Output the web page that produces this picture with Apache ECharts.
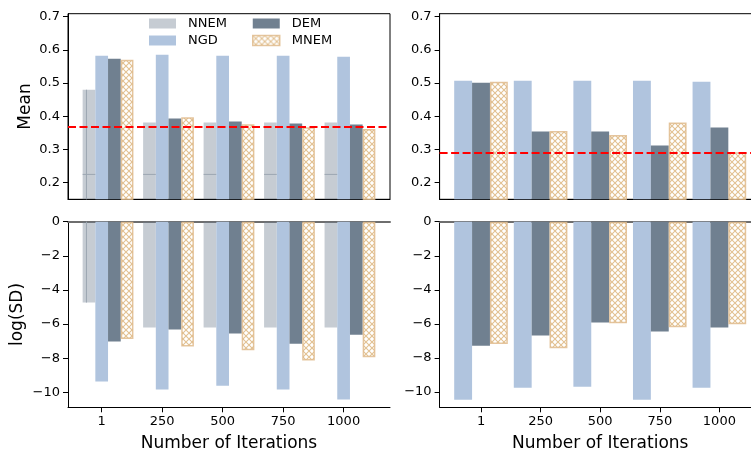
<!DOCTYPE html>
<html>
<head>
<meta charset="utf-8">
<script src="https://cdn.jsdelivr.net/npm/echarts@6/dist/echarts.min.js"></script>
<style>
  html, body { margin: 0; padding: 0; background: #fff; }
  #chart { width: 751px; height: 450px; }
</style>
</head>
<body>
<div id="chart"></div>
<script>
// x positions and tick labels
var iterPos = [0, 1, 2, 3, 4];
var iterLabels = ['1', '250', '500', '750', '1000'];

// left column: mean
var nnemMean = [0.480, 0.381, 0.381, 0.381, 0.381];
var nnemInner = [0.225, 0.225, 0.225, 0.225, 0.225];
var ngdMeanL = [0.582, 0.585, 0.582, 0.582, 0.579];
var demMeanL = [0.573, 0.393, 0.384, 0.378, 0.375];
var mnemMeanL = [0.570, 0.397, 0.376, 0.367, 0.362];
// right column: mean
var ngdMeanR = [0.507, 0.507, 0.507, 0.507, 0.504];
var demMeanR = [0.501, 0.354, 0.354, 0.312, 0.366];
var mnemMeanR = [0.504, 0.356, 0.344, 0.381, 0.292];
// reference lines (left, right)
var refMean = [0.373, 0.289];

// left column: log(SD)
var nnemLogL = [-4.74, -6.20, -6.20, -6.20, -6.20];
var ngdLogL = [-9.37, -9.84, -9.61, -9.84, -10.43];
var demLogL = [-7.02, -6.32, -6.55, -7.15, -6.63];
var mnemLogL = [-6.88, -7.31, -7.54, -8.13, -7.95];
// right column: log(SD)
var ngdLogR = [-10.45, -9.75, -9.69, -10.45, -9.75];
var demLogR = [-7.28, -6.69, -5.92, -6.45, -6.21];
var mnemLogR = [-7.18, -7.43, -5.96, -6.20, -6.02];

var meanTicks = [0.2, 0.3, 0.4, 0.5, 0.6, 0.7];
var logTicks = [0, -2, -4, -6, -8, -10];

var FONT = 'DejaVu Sans';
var LEFT_W = 0.21;   // bar width in x units, left column (4 bars)
var RIGHT_W = 0.3;   // right column (3 bars)

var NNEM_C = 'rgba(112,128,144,0.4)';
var NGD_C = '#b0c4de';
var DEM_C = '#708090';
var MNEM_EDGE = 'rgba(222,184,135,0.8)';

function makeHatch() {
  var c = document.createElement('canvas');
  c.width = 6; c.height = 6;
  var g = c.getContext('2d');
  g.fillStyle = '#fff';
  g.fillRect(0, 0, 6, 6);
  g.strokeStyle = '#e2c192';
  g.lineWidth = 1.1;
  g.beginPath();
  g.moveTo(-1, -1); g.lineTo(7, 7);
  g.moveTo(7, -1); g.lineTo(-1, 7);
  g.stroke();
  return c;
}
var hatch = { image: makeHatch(), repeat: 'repeat' };

function pts(arr) {
  return iterPos.map(function (x, i) { return [x, arr[i]]; });
}

var chart = echarts.init(document.getElementById('chart'));

var gridTop = 13.7, gridH = 185.6, gridTop2 = 221.7;
var grids = [
  { left: 68, top: gridTop, width: 322, height: gridH },
  { left: 439.6, top: gridTop, width: 321.2, height: gridH },
  { left: 68, top: gridTop2, width: 322, height: gridH },
  { left: 439.6, top: gridTop2, width: 321.2, height: gridH }
].map(function (g, i) {
  g.outerBoundsMode = 'none';
  if (i < 2) { g.show = true; g.borderColor = '#000'; g.borderWidth = 1; }
  return g;
});

function xAxisFor(grid, min, max, withLabels) {
  return {
    type: 'value', gridIndex: grid, min: min, max: max,
    splitLine: { show: false },
    axisLine: { show: true, onZero: false, lineStyle: { color: '#000', width: 1 } },
    axisTick: { show: withLabels, customValues: iterPos, length: 5, lineStyle: { color: '#000' } },
    axisLabel: {
      show: withLabels, customValues: iterPos, margin: 8,
      fontFamily: FONT, fontSize: 13, color: '#000',
      formatter: function (v) { return iterLabels[Math.round(v)]; }
    },
    name: withLabels ? 'Number of Iterations' : '',
    nameLocation: 'middle', nameGap: 28,
    nameTextStyle: { fontFamily: FONT, fontSize: 17, color: '#000' }
  };
}

function yAxisFor(grid, min, max, ticks, name, gap, fmt) {
  return {
    type: 'value', gridIndex: grid, min: min, max: max,
    splitLine: { show: false },
    axisLine: { show: true, onZero: false, lineStyle: { color: '#000', width: 1 } },
    axisTick: { show: true, customValues: ticks, length: 5, lineStyle: { color: '#000' } },
    axisLabel: {
      customValues: ticks, margin: 8,
      fontFamily: FONT, fontSize: 13, color: '#000', formatter: fmt
    },
    name: name, nameLocation: 'middle', nameGap: gap,
    nameTextStyle: { fontFamily: FONT, fontSize: 17, color: '#000' }
  };
}

var fmtMean = function (v) { return v.toFixed(1); };
var fmtLog = function (v) { return String(v).replace('-', '\u2212'); };

var xAxes = [
  xAxisFor(0, -0.557, 4.767, false),
  xAxisFor(1, -0.695, 4.695, false),
  xAxisFor(2, -0.557, 4.767, true),
  xAxisFor(3, -0.695, 4.695, true),
  // zero line along the top of the log(SD) panels
  { type: 'value', gridIndex: 2, position: 'top', min: 0, max: 1, axisLine: { onZero: false, lineStyle: { color: '#6e6e6e', width: 2 } }, axisTick: { show: false }, axisLabel: { show: false }, splitLine: { show: false } },
  { type: 'value', gridIndex: 3, position: 'top', min: 0, max: 1, axisLine: { onZero: false, lineStyle: { color: '#6e6e6e', width: 2 } }, axisTick: { show: false }, axisLabel: { show: false }, splitLine: { show: false } }
];

var yAxes = [
  yAxisFor(0, 0.15, 0.709, meanTicks, 'Mean', 34, fmtMean),
  yAxisFor(1, 0.15, 0.709, meanTicks, '', 0, fmtMean),
  yAxisFor(2, -10.88, 0, logTicks, 'log(SD)', 42, fmtLog),
  yAxisFor(3, -10.9, 0, logTicks, '', 0, fmtLog)
];

function bar(name, data, axis, width, color, edged) {
  var s = {
    name: name, type: 'bar', xAxisIndex: axis, yAxisIndex: axis,
    data: pts(data), barWidth: (width * 100) + '%', barGap: '0%',
    itemStyle: { color: color },
    emphasis: { disabled: true }
  };
  if (edged) { s.itemStyle.borderColor = MNEM_EDGE; s.itemStyle.borderWidth = 1.5; }
  return s;
}

// spacer so that ECharts' side-by-side layout puts NNEM at x-w, NGD at x, DEM at x+w, MNEM at x+2w
function spacer(axis) {
  return {
    name: '_pad', type: 'bar', xAxisIndex: axis, yAxisIndex: axis,
    data: iterPos.map(function (x) { return [x, null]; }),
    barWidth: (LEFT_W * 100) + '%', barGap: '0%', silent: true
  };
}

// thin lines inside the NNEM bars
function nnemLines(axis, base, top, inner) {
  return {
    type: 'custom', xAxisIndex: axis, yAxisIndex: axis, silent: true, z: 3,
    data: iterPos.map(function (x, i) { return [x, top[i], inner ? inner[i] : NaN]; }),
    renderItem: function (params, api) {
      var x = api.value(0), topV = api.value(1), innerV = api.value(2);
      var children = [];
      var style = { stroke: '#9ca6b1', lineWidth: 1 };
      if (!isNaN(innerV)) {
        var a = api.coord([x - 1.5 * LEFT_W, innerV]);
        var b = api.coord([x - 0.5 * LEFT_W, innerV]);
        children.push({ type: 'line', shape: { x1: a[0], y1: a[1], x2: b[0], y2: b[1] }, style: style });
      }
      if (params.dataIndex === 0) {
        var p = api.coord([x - 1.2 * LEFT_W, topV]);
        var q = api.coord([x - 1.2 * LEFT_W, base]);
        children.push({ type: 'line', shape: { x1: p[0], y1: p[1], x2: q[0], y2: q[1] }, style: style });
      }
      return { type: 'group', children: children };
    }
  };
}

function refLine(v) {
  return {
    silent: true, symbol: 'none', label: { show: false },
    lineStyle: { color: '#ff0000', type: [8, 3.5], width: 1.8 },
    data: [{ yAxis: v }]
  };
}

var series = [
  spacer(0),
  bar('NNEM', nnemMean, 0, LEFT_W, NNEM_C),
  bar('NGD', ngdMeanL, 0, LEFT_W, NGD_C),
  bar('DEM', demMeanL, 0, LEFT_W, DEM_C),
  bar('MNEM', mnemMeanL, 0, LEFT_W, hatch, true),
  nnemLines(0, 0.15, nnemMean, nnemInner),

  bar('NGD', ngdMeanR, 1, RIGHT_W, NGD_C),
  bar('DEM', demMeanR, 1, RIGHT_W, DEM_C),
  bar('MNEM', mnemMeanR, 1, RIGHT_W, hatch, true),

  spacer(2),
  bar('NNEM', nnemLogL, 2, LEFT_W, NNEM_C),
  bar('NGD', ngdLogL, 2, LEFT_W, NGD_C),
  bar('DEM', demLogL, 2, LEFT_W, DEM_C),
  bar('MNEM', mnemLogL, 2, LEFT_W, hatch, true),
  nnemLines(2, 0, nnemLogL, null),

  bar('NGD', ngdLogR, 3, RIGHT_W, NGD_C),
  bar('DEM', demLogR, 3, RIGHT_W, DEM_C),
  bar('MNEM', mnemLogR, 3, RIGHT_W, hatch, true)
];
series[4].markLine = refLine(refMean[0]);
series[8].markLine = refLine(refMean[1]);

function legendCol(left, names) {
  return {
    left: left, top: 12, orient: 'vertical', itemGap: 4,
    itemWidth: 27, itemHeight: 10, selectedMode: false,
    formatter: function (n) { return '{t|' + n + '}'; },
    textStyle: {
      fontFamily: FONT, fontSize: 13, color: '#000',
      rich: { t: { fontFamily: FONT, fontSize: 13, color: '#000', padding: [0, 0, 0, 7] } }
    },
    data: names.map(function (n) {
      var d = { name: n, icon: 'rect' };
      if (n === 'MNEM') d.itemStyle = { color: hatch, borderColor: MNEM_EDGE, borderWidth: 1.5 };
      return d;
    })
  };
}

chart.setOption({
  animation: false,
  backgroundColor: '#fff',
  legend: [legendCol(144, ['NNEM', 'NGD']), legendCol(247, ['DEM', 'MNEM'])],
  grid: grids,
  xAxis: xAxes,
  yAxis: yAxes,
  series: series
});
</script>
</body>
</html>
